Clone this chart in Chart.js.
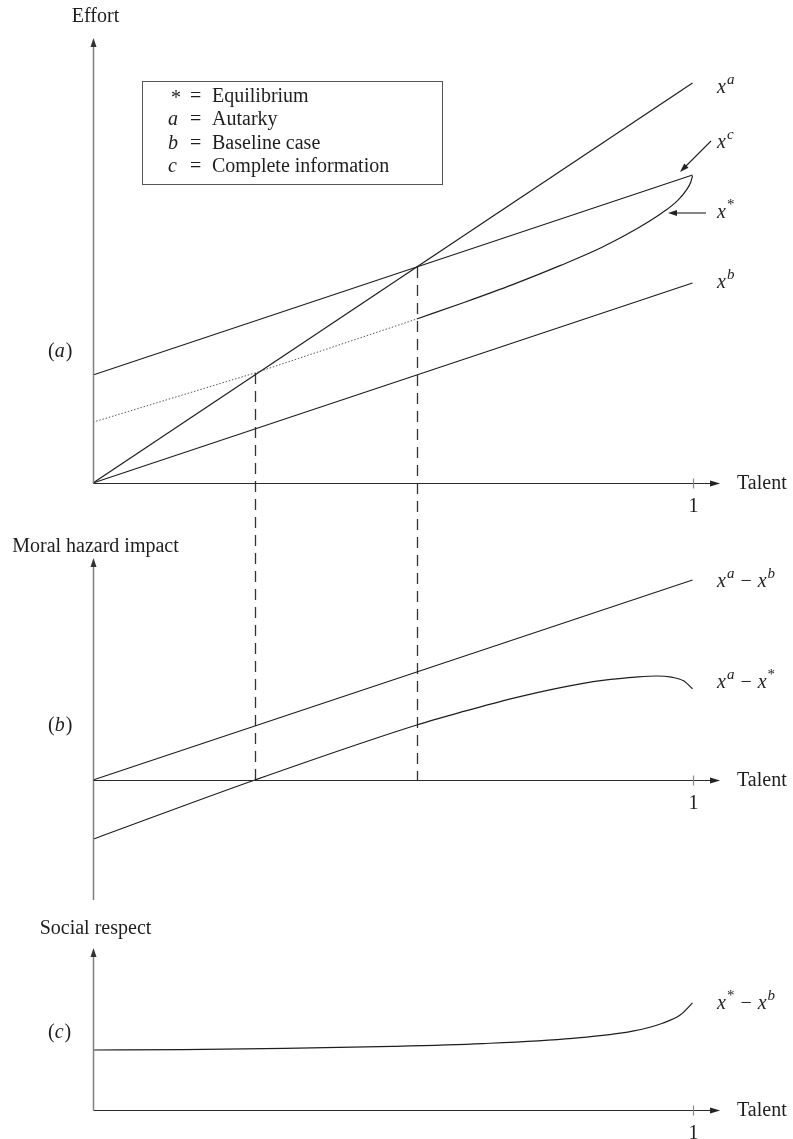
<!DOCTYPE html>
<html><head><meta charset="utf-8">
<script src="https://cdn.jsdelivr.net/npm/chart.js@4.4.1/dist/chart.umd.min.js"></script>
<style>html,body{margin:0;padding:0;background:#fff}canvas{display:block}</style>
</head><body>
<canvas id="c" width="793" height="1139"></canvas>
<script>
// ---------------- data ----------------
// Panel (a): effort vs talent
const talentLine = [0, 1];
const effortAutarky = [0, 1.0];          // x^a
const effortBaseline = [0, 0.5];         // x^b
const effortComplete = [0.27, 0.77];     // x^c
const talentEqDotted = [0, 0.27, 0.54];
const effortEqDotted = [0.152, 0.275, 0.41];   // x* (dotted part)
const talentEq = [0.54, 0.62, 0.70, 0.78, 0.85, 0.91, 0.95, 0.975, 0.99, 0.997, 1.0];
const effortEq = [0.41, 0.452, 0.496, 0.544, 0.590, 0.638, 0.676, 0.706, 0.733, 0.752, 0.768]; // x* (solid)
// Panel (b): moral hazard impact
const hazardAminusB = [0, 0.5];          // x^a - x^b
const talentHazard = [0, 0.27, 0.54, 0.62, 0.70, 0.78, 0.85, 0.91, 0.94, 0.965, 0.985, 1.0];
const hazardAminusStar = [-0.148, 0, 0.1375, 0.172, 0.204, 0.231, 0.249, 0.258, 0.26, 0.257, 0.248, 0.228];
// Panel (c): social respect
const talentRespect = [0, 0.15, 0.32, 0.5, 0.65, 0.8, 0.9, 0.95, 0.98, 1.0];
const respectStarMinusB = [0.15, 0.151, 0.154, 0.159, 0.166, 0.179, 0.197, 0.217, 0.238, 0.268];
// vertical guides (talent where curves cross, and effort level there)
const guideTalent = [0.27, 0.54];
const guideEffort = [0.275, 0.54];
const tickValues = [1];
const tickLabels = ['1'];
const xAxisTitle = 'Talent';
const yAxisTitles = ['Effort', 'Moral hazard impact', 'Social respect'];
const panelTags = ['a', 'b', 'c'];
const legendRows = [['*', 'Equilibrium'], ['a', 'Autarky'], ['b', 'Baseline case'], ['c', 'Complete information']];

// ---------------- layout ----------------
const W = 793, H = 1139;
const X0 = 93, X1 = 692.5;           // pixel of talent 0 and 1
const PX = 400;                       // pixels per unit of the vertical scales
const BASE = {ya: 483, yb: 780, yc: 1110};
const SERIF = '"Liberation Serif","Times New Roman",serif';
const INK = '#1e1e1e';

function yScale(base) { return {type: 'linear', display: false, min: (base - H) / PX, max: base / PX}; }
function pts(xs, ys) { return xs.map((t, i) => ({x: t, y: ys[i]})); }

function seg(ctx, list, x, y) {
  // list: [text, style] ; style: r roman, m minus, i italic, s italic superscript, sr roman superscript
  let cx = x;
  for (const [t, st] of list) {
    const sup = st === 's' || st === 'sr';
    const size = sup ? 15 : 20;
    ctx.font = ((st === 'i' || st === 's') ? 'italic ' : '') + size + 'px ' + SERIF;
    if (st === 'm') cx += 6;
    ctx.fillText(t, cx, sup ? y - 9 : y);
    cx += ctx.measureText(t).width + (st === 'i' ? 1 : 0) + (st === 'm' ? 6 : 0);
  }
  return cx - x;
}
function arrowHead(ctx, tx, ty, ang, len, half) {
  ctx.beginPath();
  ctx.moveTo(tx, ty);
  ctx.lineTo(tx - len * Math.cos(ang) + half * Math.sin(ang), ty - len * Math.sin(ang) - half * Math.cos(ang));
  ctx.lineTo(tx - len * Math.cos(ang) - half * Math.sin(ang), ty - len * Math.sin(ang) + half * Math.cos(ang));
  ctx.closePath();
  ctx.fill();
}

const decor = {
  id: 'decor',
  beforeDatasetsDraw(chart) {
    const {ctx, scales: {x, ya, yb}} = chart;
    ctx.save();
    ctx.strokeStyle = '#333';
    ctx.lineWidth = 1.3;
    ctx.setLineDash([11, 7]);
    guideTalent.forEach((t, i) => {
      const px = Math.round(x.getPixelForValue(t)) + 0.5;
      ctx.beginPath();
      ctx.moveTo(px, ya.getPixelForValue(guideEffort[i]));
      ctx.lineTo(px, yb.getPixelForValue(0));
      ctx.stroke();
    });
    ctx.restore();
  },
  afterDraw(chart) {
    const {ctx, scales} = chart;
    const x = scales.x;
    ctx.save();
    ctx.fillStyle = INK;
    ctx.textBaseline = 'alphabetic';
    const axes = [
      {s: scales.ya, top: 1.1125, bottom: 0, title: yAxisTitles[0], titleY: 22, tagY: 357},
      {s: scales.yb, top: 0.555, bottom: -0.30, title: yAxisTitles[1], titleY: 552, tagY: 731},
      {s: scales.yc, top: 0.405, bottom: 0, title: yAxisTitles[2], titleY: 934, tagY: 1038}
    ];
    const x0 = Math.round(x.getPixelForValue(0)) + 0.5;
    const xEnd = x.getPixelForValue(1.046);
    axes.forEach((a, k) => {
      const base = Math.round(a.s.getPixelForValue(0)) + 0.5;
      const top = a.s.getPixelForValue(a.top);
      const bot = a.s.getPixelForValue(a.bottom);
      // y axis
      ctx.strokeStyle = '#808080'; ctx.fillStyle = '#333'; ctx.lineWidth = 1.5;
      ctx.beginPath(); ctx.moveTo(x0, bot); ctx.lineTo(x0, top + 6); ctx.stroke();
      arrowHead(ctx, x0, top, -Math.PI / 2, 9, 3);
      // x axis
      ctx.strokeStyle = '#2a2a2a'; ctx.lineWidth = 1.2;
      ctx.beginPath(); ctx.moveTo(x0, base); ctx.lineTo(xEnd - 6, base); ctx.stroke();
      ctx.fillStyle = '#222';
      arrowHead(ctx, xEnd, base, 0, 10, 3);
      // ticks
      ctx.strokeStyle = '#888'; ctx.lineWidth = 1.2;
      tickValues.forEach((v, i) => {
        const tx = Math.round(x.getPixelForValue(v)) + 0.5;
        ctx.beginPath(); ctx.moveTo(tx, base - 5); ctx.lineTo(tx, base + 5); ctx.stroke();
        ctx.fillStyle = INK; ctx.font = '20px ' + SERIF; ctx.textAlign = 'center';
        ctx.fillText(tickLabels[i], tx, base + 28);
      });
      ctx.textAlign = 'left'; ctx.fillStyle = INK; ctx.font = '20px ' + SERIF;
      ctx.fillText(xAxisTitle, 737, base + 5);
      // titles
      ctx.textAlign = 'center';
      ctx.fillText(a.title, x0 + 2, a.titleY);
      ctx.textAlign = 'left';
      seg(ctx, [['(', 'r'], [panelTags[k], 'i'], [')', 'r']], 48, a.tagY);
    });

    // legend box
    ctx.strokeStyle = '#555'; ctx.lineWidth = 1;
    ctx.strokeRect(142.5, 81.5, 300, 103);
    ctx.fillStyle = INK;
    legendRows.forEach((r, i) => {
      const y = 101.5 + i * 23.5;
      if (r[0] === '*') { ctx.font = '20px ' + SERIF; ctx.fillText('*', 171, y + 2); }
      else { ctx.font = 'italic 20px ' + SERIF; ctx.fillText(r[0], 168, y); }
      ctx.font = '20px ' + SERIF;
      ctx.fillText('=', 190, y);
      ctx.fillText(r[1], 212, y);
    });

    // curve labels
    const L = 717;
    seg(ctx, [['x', 'i'], ['a', 's']], L, 93);
    seg(ctx, [['x', 'i'], ['c', 's']], L, 148);
    seg(ctx, [['x', 'i'], ['*', 'sr']], L, 218);
    seg(ctx, [['x', 'i'], ['b', 's']], L, 288);
    seg(ctx, [['x', 'i'], ['a', 's'], ['\u2212', 'm'], ['x', 'i'], ['b', 's']], L, 587);
    seg(ctx, [['x', 'i'], ['a', 's'], ['\u2212', 'm'], ['x', 'i'], ['*', 'sr']], L, 688);
    seg(ctx, [['x', 'i'], ['*', 'sr'], ['\u2212', 'm'], ['x', 'i'], ['b', 's']], L, 1009);

    // pointer arrows
    ctx.strokeStyle = '#222'; ctx.fillStyle = '#222'; ctx.lineWidth = 1.1;
    ctx.beginPath(); ctx.moveTo(711, 141); ctx.lineTo(684, 168); ctx.stroke();
    arrowHead(ctx, 680, 172, Math.atan2(31, -31), 9, 3);
    ctx.beginPath(); ctx.moveTo(706, 213); ctx.lineTo(674, 213); ctx.stroke();
    arrowHead(ctx, 668, 213, Math.PI, 9, 3);
    ctx.restore();
  }
};

const solid = {borderColor: INK, borderWidth: 1.2, pointRadius: 0, fill: false};
new Chart(document.getElementById('c'), {
  type: 'line',
  data: {
    datasets: [
      {...solid, label: 'x^a', data: pts(talentLine, effortAutarky), yAxisID: 'ya'},
      {...solid, label: 'x^b', data: pts(talentLine, effortBaseline), yAxisID: 'ya'},
      {...solid, label: 'x^c', data: pts(talentLine, effortComplete), yAxisID: 'ya'},
      {...solid, label: 'x* (dotted)', data: pts(talentEqDotted, effortEqDotted), yAxisID: 'ya', borderColor: '#555', borderWidth: 1, borderDash: [1.5, 1.8]},
      {...solid, label: 'x*', data: pts(talentEq, effortEq), yAxisID: 'ya', cubicInterpolationMode: 'monotone'},
      {...solid, label: 'x^a - x^b', data: pts(talentLine, hazardAminusB), yAxisID: 'yb'},
      {...solid, label: 'x^a - x*', data: pts(talentHazard, hazardAminusStar), yAxisID: 'yb', cubicInterpolationMode: 'monotone'},
      {...solid, label: 'x* - x^b', data: pts(talentRespect, respectStarMinusB), yAxisID: 'yc', cubicInterpolationMode: 'monotone'}
    ]
  },
  options: {
    responsive: false, animation: false, devicePixelRatio: 1,
    layout: {padding: 0},
    plugins: {legend: {display: false}, tooltip: {enabled: false}},
    scales: {
      x: {type: 'linear', display: false, min: -X0 / (X1 - X0), max: (W - X0) / (X1 - X0)},
      ya: yScale(BASE.ya),
      yb: yScale(BASE.yb),
      yc: yScale(BASE.yc)
    }
  },
  plugins: [decor]
});
</script>
</body></html>
